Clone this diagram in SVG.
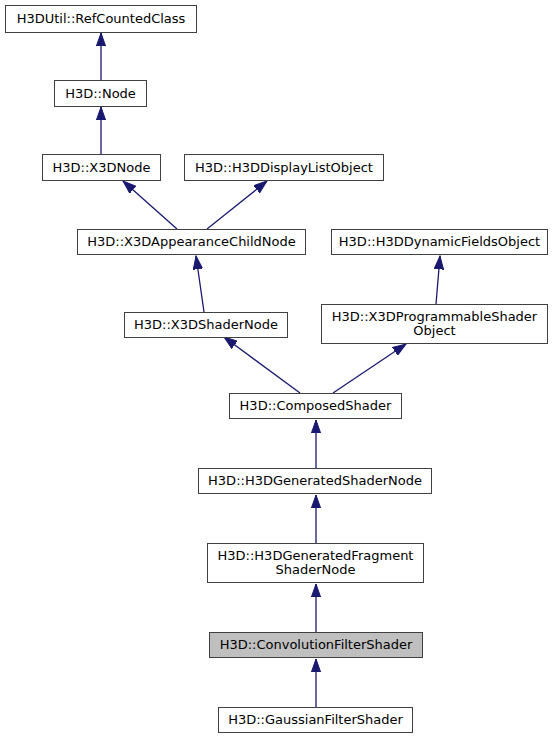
<svg xmlns="http://www.w3.org/2000/svg" width="559" height="739" viewBox="0 0 559 739">
<style>
.n rect{fill:#ffffff;stroke:#404040;stroke-width:1}
.n.hl rect{fill:#bfbfbf}
.n text{font-family:"DejaVu Sans",sans-serif;font-size:13px;fill:#000;text-anchor:middle}
.e path{fill:none;stroke:#191970;stroke-width:1.3;marker-end:url(#ah)}
</style>
<defs>
<marker id="ah" markerUnits="userSpaceOnUse" markerWidth="14" markerHeight="10" refX="13.3" refY="5" orient="auto" viewBox="0 0 14 10">
<path d="M0,0.3 L13.3,5 L0,9.7 Z" fill="#191970" stroke="#191970" stroke-width="1"/>
</marker>
</defs>
<rect width="559" height="739" fill="#ffffff"/>
<g id="edges" class="e">
<path d="M101,80 L101,33"/>
<path d="M101,154 L101,107"/>
<path d="M177,229 L123,181"/>
<path d="M207,229 L267,181"/>
<path d="M204,312 L196,256"/>
<path d="M436,304 L440,256"/>
<path d="M300,393 L224,337"/>
<path d="M333,393 L406,344"/>
<path d="M316,468 L316,420"/>
<path d="M316,543 L316,495"/>
<path d="M316,632 L316,584"/>
<path d="M316,707 L316,659"/>
</g>
<g id="refcountedclass" class="n"><rect x="5.5" y="5.5" width="191" height="27"/><text x="101" y="23">H3DUtil::RefCountedClass</text></g>
<g id="node" class="n"><rect x="54.5" y="80.5" width="92" height="26"/><text x="100.5" y="98">H3D::Node</text></g>
<g id="x3dnode" class="n"><rect x="42.5" y="154.5" width="118" height="26"/><text x="101.5" y="172">H3D::X3DNode</text></g>
<g id="displaylistobject" class="n"><rect x="184.5" y="154.5" width="199" height="26"/><text x="284" y="172">H3D::H3DDisplayListObject</text></g>
<g id="appearancechildnode" class="n"><rect x="77.5" y="229.5" width="228" height="25"/><text x="191.5" y="246">H3D::X3DAppearanceChildNode</text></g>
<g id="dynamicfieldsobject" class="n"><rect x="331.5" y="229.5" width="216" height="25"/><text x="439.5" y="246">H3D::H3DDynamicFieldsObject</text></g>
<g id="x3dshadernode" class="n"><rect x="124.5" y="312.5" width="163" height="25"/><text x="206" y="329">H3D::X3DShaderNode</text></g>
<g id="programmableshaderobject" class="n"><rect x="321.5" y="304.5" width="226" height="39"/><text x="434.5" y="321">H3D::X3DProgrammableShader</text><text x="434.5" y="335">Object</text></g>
<g id="composedshader" class="n"><rect x="229.5" y="393.5" width="172" height="25"/><text x="315.5" y="410">H3D::ComposedShader</text></g>
<g id="generatedshadernode" class="n"><rect x="198.5" y="468.5" width="233" height="25"/><text x="315" y="485">H3D::H3DGeneratedShaderNode</text></g>
<g id="generatedfragmentshadernode" class="n"><rect x="207.5" y="543.5" width="216" height="39"/><text x="315.5" y="560">H3D::H3DGeneratedFragment</text><text x="315.5" y="574">ShaderNode</text></g>
<g id="convolutionfiltershader" class="n hl"><rect x="209.5" y="632.5" width="213" height="25"/><text x="316" y="649">H3D::ConvolutionFilterShader</text></g>
<g id="gaussianfiltershader" class="n"><rect x="218.5" y="707.5" width="194" height="25"/><text x="315.5" y="724">H3D::GaussianFilterShader</text></g>
</svg>
